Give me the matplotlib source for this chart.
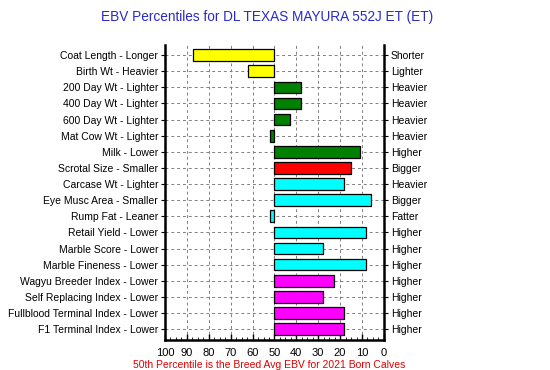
import numpy as np
import matplotlib.pyplot as plt

plt.rcParams['font.family'] = ['Liberation Sans', 'DejaVu Sans']

# traits (left label = direction toward 100, right label = toward 0)
left_labels = ["Coat Length - Longer", "Birth Wt - Heavier", "200 Day Wt - Lighter",
               "400 Day Wt - Lighter", "600 Day Wt - Lighter", "Mat Cow Wt - Lighter",
               "Milk - Lower", "Scrotal Size - Smaller", "Carcase Wt - Lighter",
               "Eye Musc Area - Smaller", "Rump Fat - Leaner", "Retail Yield - Lower",
               "Marble Score - Lower", "Marble Fineness - Lower", "Wagyu Breeder Index - Lower",
               "Self Replacing Index - Lower", "Fullblood Terminal Index - Lower",
               "F1 Terminal Index - Lower"]
right_labels = ["Shorter", "Lighter", "Heavier", "Heavier", "Heavier", "Heavier",
                "Higher", "Bigger", "Heavier", "Bigger", "Fatter", "Higher",
                "Higher", "Higher", "Higher", "Higher", "Higher", "Higher"]
percentiles = [87, 62, 38, 38, 43, 52, 11, 15, 18, 6, 52, 8, 28, 8, 23, 28, 18, 18]
colors = ["#FFFF00", "#FFFF00", "#008000", "#008000", "#008000", "#008000", "#008000",
          "#FF0000", "#00FFFF", "#00FFFF", "#00FFFF", "#00FFFF", "#00FFFF", "#00FFFF",
          "#FF00FF", "#FF00FF", "#FF00FF", "#FF00FF"]

fig = plt.figure(figsize=(5.5, 3.7), dpi=100)
ax = fig.add_axes([0.300, 0.081, 0.398, 0.797])

y = np.arange(len(left_labels))
widths = np.array(percentiles) - 50
ax.barh(y, widths, left=50, height=0.72, color=colors, edgecolor="black",
        linewidth=0.9, zorder=3)

ax.set_xlim(100, 0)
ax.set_ylim(len(y) - 0.32, -0.62)
ax.set_xticks(np.arange(100, -1, -10))
ax.set_xticks(np.arange(100, -1, -2.5), minor=True)
ax.set_yticks(y)
ax.set_yticklabels(left_labels, fontsize=7.5)
ax.tick_params(axis="x", labelsize=8, direction="in", length=4, width=1, pad=6)
ax.tick_params(axis="x", which="minor", direction="in", length=2)
ax.tick_params(axis="y", direction="out", length=3, width=0.8, pad=2)

for x in range(10, 100, 10):
    ax.axvline(x, color="#808080", linestyle=(0, (3, 3)), linewidth=0.7, zorder=1)
for yy in y:
    ax.axhline(yy, color="#808080", linestyle=(0, (3, 3)), linewidth=0.7, zorder=1)

ax.spines["top"].set_visible(False)
for s in ["left", "right", "bottom"]:
    ax.spines[s].set_linewidth(1.8)

ax2 = ax.twinx()
ax2.set_ylim(ax.get_ylim())
ax2.set_yticks(y)
ax2.set_yticklabels(right_labels, fontsize=7.5)
ax2.tick_params(axis="y", direction="out", length=3, width=0.8, pad=2)
for s in ax2.spines.values():
    s.set_visible(False)

fig.text(0.485, 0.955, "EBV Percentiles for DL TEXAS MAYURA 552J ET (ET)",
         ha="center", va="center", fontsize=9.8, color="#2A2AC8")
fig.text(0.49, 0.014, "50th Percentile is the Breed Avg EBV for 2021 Born Calves",
         ha="center", va="center", fontsize=7.5, color="#E00000")

fig.savefig("out.png", dpi=100)
